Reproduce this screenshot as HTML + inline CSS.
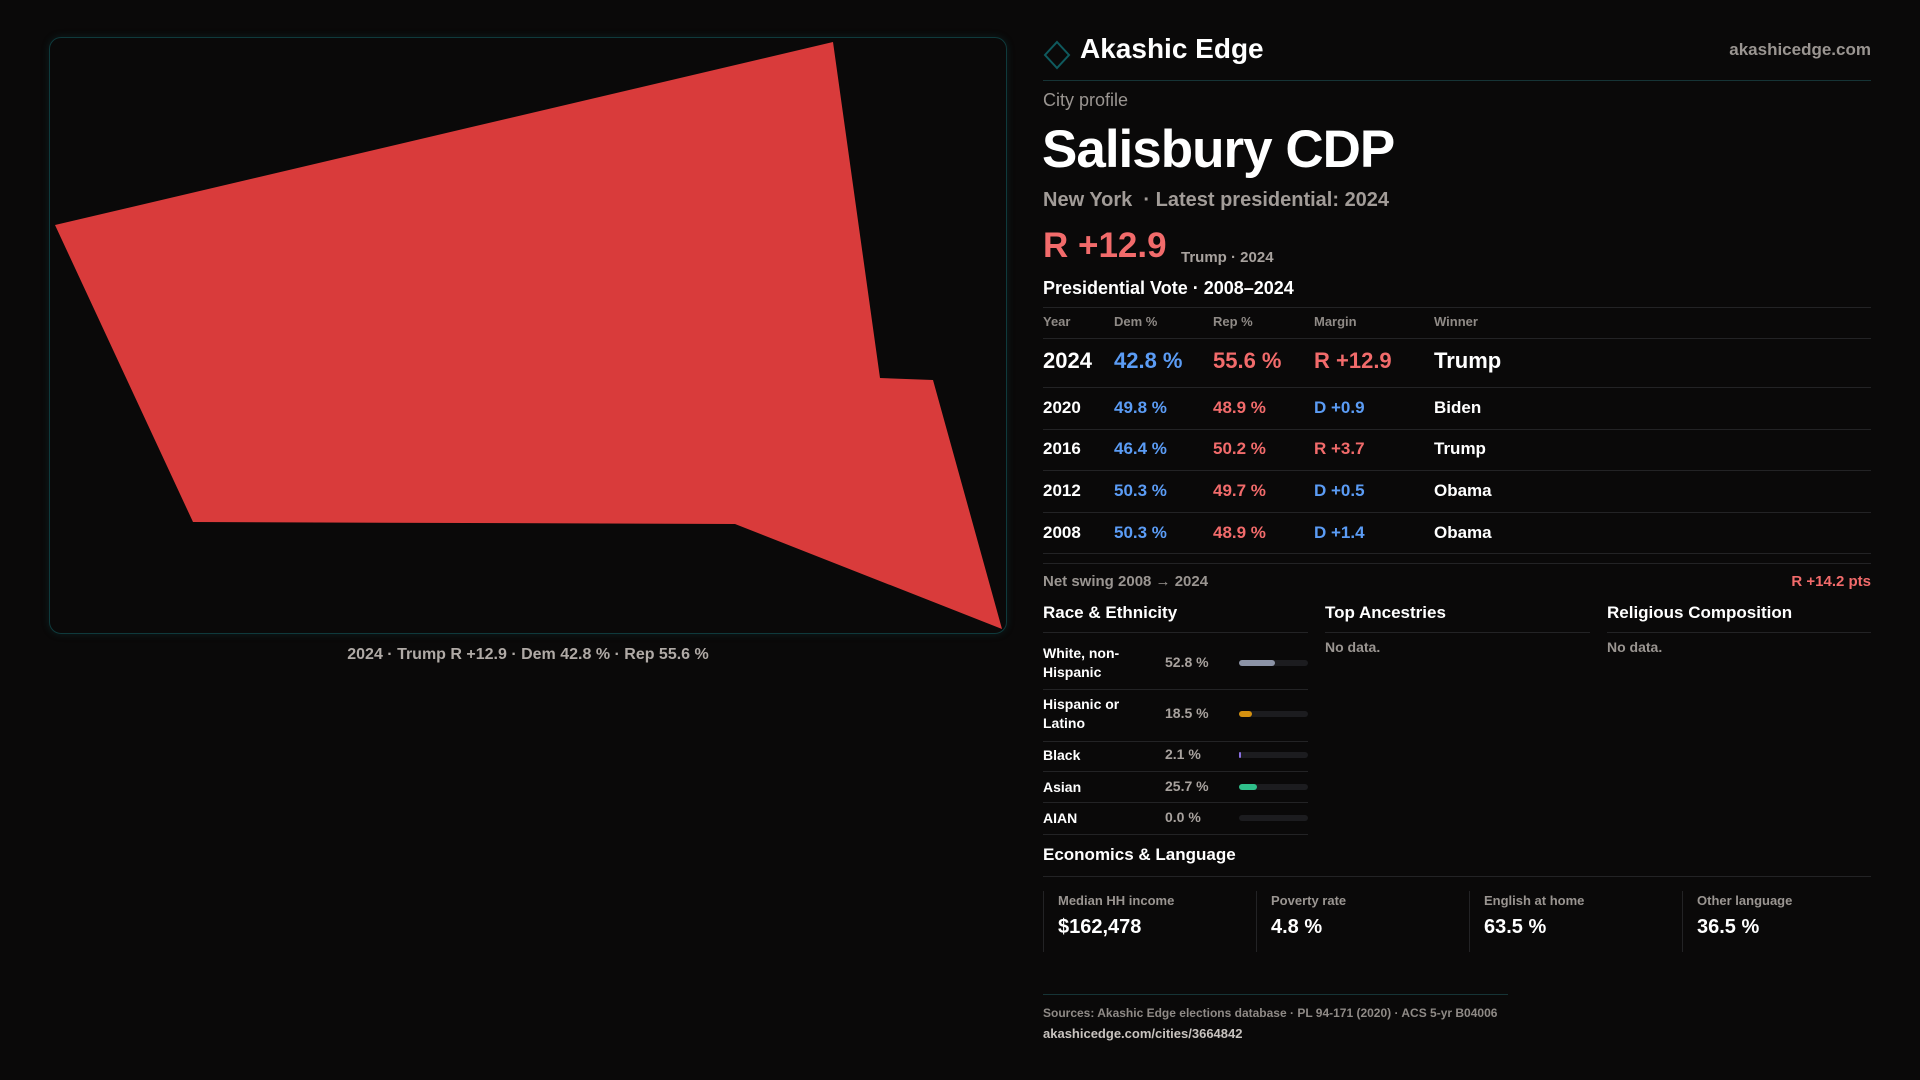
<!DOCTYPE html>
<html><head><meta charset="utf-8">
<style>
*{margin:0;padding:0;box-sizing:border-box}
body{width:1920px;height:1080px;background:#0a0909;font-family:"Liberation Sans",sans-serif;color:#fff;position:relative;overflow:hidden}
.abs{position:absolute;white-space:nowrap}
.hl{position:absolute;height:1px;background:#232325}
.g{color:#a8a29e}
.b{color:#5b9cf5}.r{color:#f26b6b}
</style></head><body>
<div style="position:absolute;left:49px;top:37px;width:958px;height:597px;border:1px solid #0f3a3c;border-radius:12px;box-shadow:0 0 8px rgba(20,90,95,.25)"></div>
<svg style="position:absolute;left:0;top:0" width="1920" height="1080">
<polygon points="55,225 833,42 880,378 933,380 1002,629 735,524 193,522" fill="#d93b3b"/>
</svg>
<div class="abs g" style="left:0;width:1056px;text-align:center;top:646px;font-size:16px;font-weight:bold;color:#b0aaa6">2024 · Trump R +12.9 · Dem 42.8 % · Rep 55.6 %</div>

<svg style="position:absolute;left:1043px;top:40px" width="28" height="30"><polygon points="14,2 26,15 14,28 2,15" fill="none" stroke="#0f5a5e" stroke-width="2"/></svg>
<div class="abs" style="left:1080px;top:33px;font-size:28px;font-weight:bold">Akashic Edge</div>
<div class="abs g" style="right:49px;top:40px;font-size:17px;font-weight:bold;color:#9a9591">akashicedge.com</div>
<div class="hl" style="left:1043px;width:828px;top:80px;background:#163436"></div>
<div class="abs g" style="left:1043px;top:90px;font-size:18px;color:#9a9591">City profile</div>
<div class="abs" style="left:1042px;top:119px;font-size:53px;font-weight:bold;letter-spacing:-1px">Salisbury CDP</div>
<div class="abs g" style="left:1043px;top:189px;font-size:20px;font-weight:bold;color:#a29c98">New York &nbsp;· Latest presidential: 2024</div>
<div class="abs r" style="left:1043px;top:226px;font-size:35px;font-weight:bold">R +12.9</div>
<div class="abs g" style="left:1181px;top:249px;font-size:15px;font-weight:bold">Trump · 2024</div>
<div class="abs" style="left:1043px;top:278px;font-size:18px;font-weight:bold">Presidential Vote · 2008–2024</div>
<div class="hl" style="left:1043px;width:828px;top:307px"></div>
<div id="tbl"></div>
<div class="abs g" style="left:1043px;top:573px;font-size:15px;font-weight:bold;color:#9a9591">Net swing 2008 → 2024</div>
<div class="abs r" style="right:49px;top:573px;font-size:15px;font-weight:bold">R +14.2 pts</div>

<div class="abs" style="left:1043px;top:603px;font-size:17px;font-weight:bold">Race &amp; Ethnicity</div>
<div class="hl" style="left:1043px;width:265px;top:632px"></div>
<div class="abs" style="left:1325px;top:603px;font-size:17px;font-weight:bold">Top Ancestries</div>
<div class="hl" style="left:1325px;width:265px;top:632px"></div>
<div class="abs g" style="left:1325px;top:639px;font-size:14px;font-weight:bold;color:#9a9591">No data.</div>
<div class="abs" style="left:1607px;top:603px;font-size:17px;font-weight:bold">Religious Composition</div>
<div class="hl" style="left:1607px;width:264px;top:632px"></div>
<div class="abs g" style="left:1607px;top:639px;font-size:14px;font-weight:bold;color:#9a9591">No data.</div>
<div id="race"></div>

<div class="abs" style="left:1043px;top:845px;font-size:17px;font-weight:bold">Economics &amp; Language</div>
<div class="hl" style="left:1043px;width:828px;top:876px"></div>
<div id="econ"></div>

<div class="hl" style="left:1043px;width:465px;top:994px;background:#163436"></div>
<div class="abs g" style="left:1043px;top:1006px;font-size:12px;font-weight:bold;color:#8f8a86">Sources: Akashic Edge elections database · PL 94-171 (2020) · ACS 5-yr B04006</div>
<div class="abs" style="left:1043px;top:1026px;font-size:13px;font-weight:bold;color:#c8c3bf">akashicedge.com/cities/3664842</div>

<script>
const years=["2024","2020","2016","2012","2008"];
const demPct=[42.8,49.8,46.4,50.3,50.3];
const repPct=[55.6,48.9,50.2,49.7,48.9];
const margins=["R +12.9","D +0.9","R +3.7","D +0.5","D +1.4"];
const winners=["Trump","Biden","Trump","Obama","Obama"];
const raceLabels=["White, non-<br>Hispanic","Hispanic or<br>Latino","Black","Asian","AIAN"];
const raceValues=[52.8,18.5,2.1,25.7,0.0];
const raceColors=["#8c93a6","#d4900f","#8a6fe0","#2fbf8a","#555"];
const econLabels=["Median HH income","Poverty rate","English at home","Other language"];
const econValues=["$162,478","4.8 %","63.5 %","36.5 %"];

function mk(parent,html,style){const d=document.createElement('div');d.className='abs';d.innerHTML=html;d.style.cssText=style;parent.appendChild(d);return d;}
const T=document.getElementById('tbl');
const cols=[1043,1114,1213,1314,1434];
["Year","Dem %","Rep %","Margin","Winner"].forEach((h,i)=>{
 const e=mk(T,h,`left:${cols[i]}px;top:314px;font-size:13px;font-weight:bold;color:#8f8a86`);
 
 
});
mk(T,'','left:1043px;width:828px;top:338px;height:1px;background:#232325');
const rowY=[361,408,449,491,533], lineY=[387,429,470,512,553];
years.forEach((y,i)=>{
 const big=i===0, fs=big?22:17, top=rowY[i]-fs*0.6;
 const mt=margins[i];
 const isR=mt.startsWith('R');
 const vals=[y,demPct[i].toFixed(1)+' %',repPct[i].toFixed(1)+' %',mt,winners[i]];
 const colors=['#fff','#5b9cf5','#f26b6b',isR?'#f26b6b':'#5b9cf5','#fff'];
 vals.forEach((v,j)=>{
  const e=mk(T,v,`left:${cols[j]}px;top:${top}px;font-size:${fs}px;font-weight:bold;color:${colors[j]}`);
  
  
 });
 mk(T,'',`left:1043px;width:828px;top:${lineY[i]}px;height:1px;background:#232325`);
});
mk(T,'','left:1043px;width:828px;top:563px;height:1px;background:#232325');

const R=document.getElementById('race');
const rY=[663,714,755,787,818], rL=[689,741,771,802,834];
raceValues.forEach((v,i)=>{
 const two=raceLabels[i].includes('<br>');
 const l=mk(R,raceLabels[i],`left:1043px;top:${rY[i]-(two?19:9)}px;font-size:14px;font-weight:bold;line-height:19px;white-space:nowrap`);
 
 
 const t=mk(R,v.toFixed(1)+' %',`left:1165px;top:${rY[i]-9}px;font-size:14px;font-weight:bold;color:#a8a29e`);
 
 
 mk(R,'',`left:1239px;top:${rY[i]-3}px;width:69px;height:6px;border-radius:3px;background:#1c1c1f`);
 const b=mk(R,'',`left:1239px;top:${rY[i]-3}px;width:${Math.max(v>0?2:0,69*v/100)}px;height:6px;border-radius:3px;background:${raceColors[i]}`);
 
 
 mk(R,'',`left:1043px;width:265px;top:${rL[i]}px;height:1px;background:#232325`);
});

const E=document.getElementById('econ');
econLabels.forEach((lab,i)=>{
 const x=1043+i*213;
 mk(E,'',`left:${x}px;top:891px;width:1px;height:61px;background:#232325`);
 const a=mk(E,lab,`left:${x+15}px;top:893px;font-size:13px;font-weight:bold;color:#9a9591`);
 
 
 const c=mk(E,econValues[i],`left:${x+15}px;top:916px;font-size:20px;font-weight:bold`);
 
 
});
</script>
</body></html>
